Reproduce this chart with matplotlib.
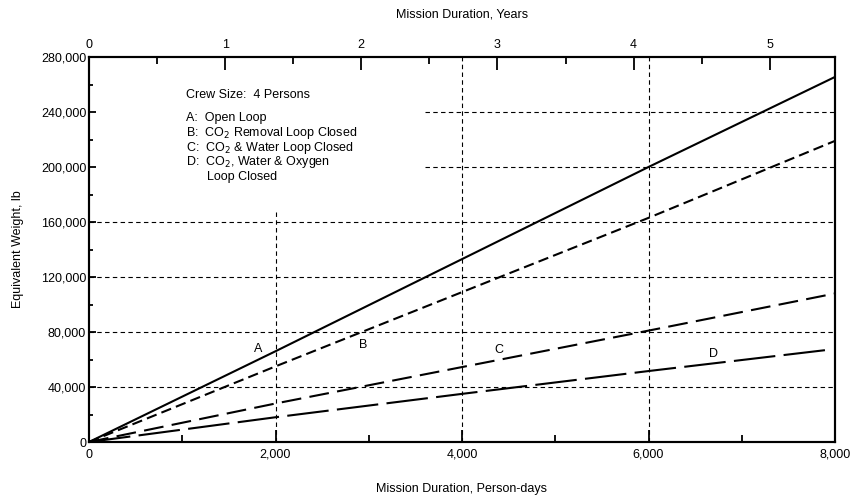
import matplotlib
matplotlib.use("Agg")
import matplotlib.pyplot as plt
from matplotlib.ticker import FixedLocator

plt.rcParams['font.family'] = ['Liberation Sans', 'DejaVu Sans']

# Data (person-days vs equivalent weight, lb)
days = [0, 2000, 4000, 6000, 8000]
loop_a = [0, 66000, 133000, 200000, 265500]
loop_b = [0, 55000, 109000, 163000, 219000]
loop_c = [0, 28000, 54500, 81000, 108000]
days_d = [0, 2000, 4000, 6000, 7920]
loop_d = [0, 18000, 35000, 51600, 67000]

x_ticks = [0, 2000, 4000, 6000, 8000]
x_labels = ['0', '2,000', '4,000', '6,000', '8,000']
y_ticks = [0, 40000, 80000, 120000, 160000, 200000, 240000, 280000]
y_labels = ['0', '40,000', '80,000', '120,000', '160,000', '200,000', '240,000', '280,000']
year_ticks = [0, 1, 2, 3, 4, 5]
crew = 4
legend_title = 'Crew Size:  4 Persons'
legend_lines = ['A:  Open Loop',
                'B:  CO$_2$ Removal Loop Closed',
                'C:  CO$_2$ & Water Loop Closed',
                'D:  CO$_2$, Water & Oxygen',
                '      Loop Closed']

fig = plt.figure(figsize=(8.51, 4.98), dpi=100)
ax = fig.add_axes([89/851, 1-442/498, (835-89)/851, (442-57)/498])
ax.set_xlim(0, 8000)
ax.set_ylim(0, 280000)

grid_kw = dict(color='black', lw=0.8, ls=(0, (4, 3)), zorder=1)
for yv in [40000, 80000, 120000, 160000]:
    ax.plot([0, 8000], [yv, yv], **grid_kw)
for yv in [200000, 240000]:
    ax.plot([3600, 8000], [yv, yv], **grid_kw)
ax.plot([2000, 2000], [0, 169000], **grid_kw)
for xv in [4000, 6000]:
    ax.plot([xv, xv], [0, 280000], **grid_kw)

ax.plot(days, loop_a, color='black', lw=1.5, ls='-', zorder=3)
ax.plot(days, loop_b, color='black', lw=1.5, ls=(0, (5, 2.5)), zorder=3)
ax.plot(days, loop_c, color='black', lw=1.5, ls=(0, (9.5, 4)), zorder=3)
ax.plot(days_d, loop_d, color='black', lw=1.5, ls=(0, (20, 4)), zorder=3)

fs = 9
ax.text(1812, 67600, 'A', fontsize=fs, ha='center', va='center')
ax.text(2938, 70500, 'B', fontsize=fs, ha='center', va='center')
ax.text(4397, 66900, 'C', fontsize=fs, ha='center', va='center')
ax.text(6692, 64000, 'D', fontsize=fs, ha='center', va='center')

ax.text(1040, 252300, legend_title, fontsize=fs, ha='left', va='center')
for i, t in enumerate(legend_lines):
    ax.text(1040, 235500 - i * 10700, t, fontsize=fs, ha='left', va='center')

ax.xaxis.set_major_locator(FixedLocator(x_ticks))
ax.set_xticklabels(x_labels, fontsize=fs)
ax.xaxis.set_minor_locator(FixedLocator([1000, 3000, 5000, 7000]))
ax.yaxis.set_major_locator(FixedLocator(y_ticks))
ax.set_yticklabels(y_labels, fontsize=fs)
ax.yaxis.set_minor_locator(FixedLocator([20000, 60000, 100000, 140000, 180000, 220000, 260000]))
ax.tick_params(which='both', direction='in', width=1.3)
ax.tick_params(axis='x', which='major', length=9, pad=5)
ax.tick_params(axis='x', which='minor', length=5)
ax.tick_params(axis='y', which='major', length=5, pad=2)
ax.tick_params(axis='y', which='minor', length=3)

ax2 = ax.twiny()
ax2.set_xlim(0, 8000 / (crew * 365))
ax2.xaxis.set_major_locator(FixedLocator(year_ticks))
ax2.set_xticklabels([str(v) for v in year_ticks], fontsize=fs)
ax2.xaxis.set_minor_locator(FixedLocator([0.5, 1.5, 2.5, 3.5, 4.5]))
ax2.tick_params(which='both', direction='in', width=1.3)
ax2.tick_params(which='major', length=9, pad=4)
ax2.tick_params(which='minor', length=5)

for a in (ax, ax2):
    for s in a.spines.values():
        s.set_linewidth(1.5)

ax.set_xlabel('Mission Duration, Person-days', fontsize=fs, labelpad=16)
ax2.set_xlabel('Mission Duration, Years', fontsize=fs, labelpad=16)
ax.set_ylabel('Equivalent Weight, lb', fontsize=fs, labelpad=12)

fig.savefig('out.png', dpi=100)
